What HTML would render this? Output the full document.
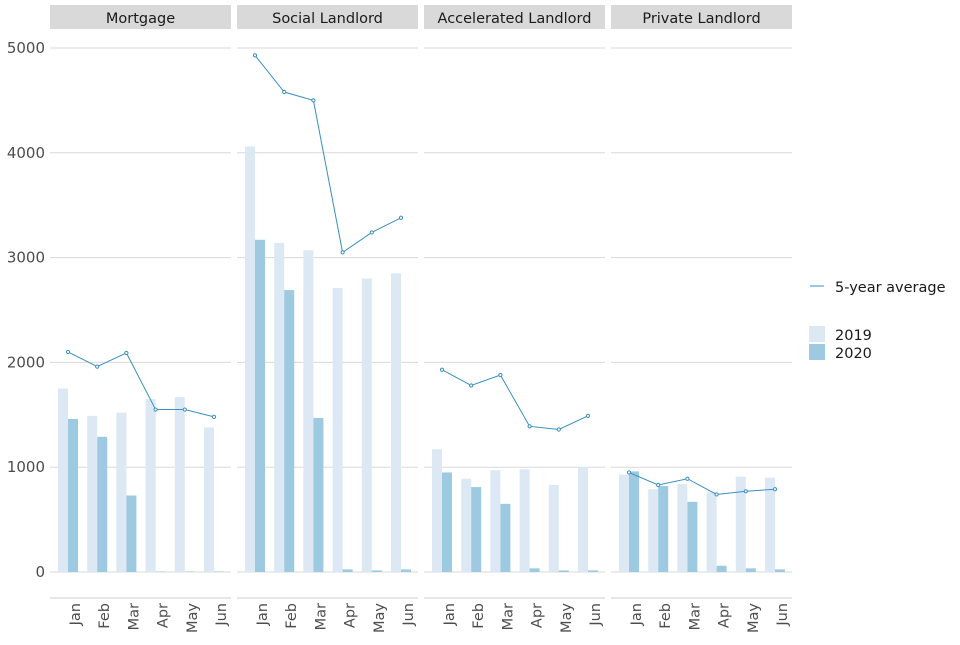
<!DOCTYPE html>
<html><head><meta charset="utf-8">
<style>
body{margin:0;background:#fff;font-family:"Liberation Sans","DejaVu Sans",sans-serif;}
svg text{font-family:"DejaVu Sans","Liberation Sans",sans-serif;}
</style></head>
<body>
<svg id="chart" width="960" height="640" xmlns="http://www.w3.org/2000/svg"></svg>
<script>
const panels = ["Mortgage","Social Landlord","Accelerated Landlord","Private Landlord"];
const months = ["Jan","Feb","Mar","Apr","May","Jun"];
const yTicks = [0,1000,2000,3000,4000,5000];
const vals2019 = [
  [1750,1490,1520,1650,1670,1380],
  [4060,3140,3070,2710,2800,2850],
  [1170,890,970,980,830,1000],
  [930,790,840,760,910,900]
];
const vals2020 = [
  [1460,1290,730,5,5,5],
  [3170,2690,1470,25,15,25],
  [950,810,650,35,15,15],
  [960,820,670,60,35,25]
];
const avg5 = [
  [2100,1960,2090,1550,1550,1480],
  [4930,4580,4500,3050,3240,3380],
  [1930,1780,1880,1390,1360,1490],
  [950,830,890,740,770,790]
];
const NS="http://www.w3.org/2000/svg";
const svg=document.getElementById('chart');
const panelLeft=[50,237,424,611], panelW=181;
function y(v){return 572 - v*0.1048;}
function x(p,i){return panelLeft[p]+18+i*29.2;}
function mk(tag,attrs,parent){const e=document.createElementNS(NS,tag);for(const k in attrs)e.setAttribute(k,attrs[k]);(parent||svg).appendChild(e);return e;}
yTicks.forEach(t=>{
  const tx=mk('text',{x:45,y:y(t)+5,'text-anchor':'end','font-size':15,fill:'#4d4d4d'});
  tx.textContent=t;
  
  
});
panels.forEach((name,p)=>{
  const g=mk('g',{});
  
  
  const strip=mk('rect',{x:panelLeft[p],y:5,width:panelW,height:24,fill:'#d9d9d9'},g);
  
  
  const st=mk('text',{x:panelLeft[p]+panelW/2,y:23,'text-anchor':'middle','font-size':14.5,fill:'#1a1a1a'},g);
  st.textContent=name;
  
  
  yTicks.forEach(t=>{
    const l=mk('line',{x1:panelLeft[p],x2:panelLeft[p]+panelW,y1:y(t),y2:y(t),stroke:'#d9d9d9','stroke-width':1},g);
    
    
  });
  const ax=mk('line',{x1:panelLeft[p],x2:panelLeft[p]+panelW,y1:598,y2:598,stroke:'#cccccc','stroke-width':1},g);
  
  
  months.forEach((m,i)=>{
    const cx=x(p,i);
    const b1=mk('rect',{x:cx-10,y:y(vals2019[p][i]),width:10,height:y(0)-y(vals2019[p][i]),fill:'#dce9f5'},g);
    
    
    const b2=mk('rect',{x:cx,y:y(vals2020[p][i]),width:10,height:y(0)-y(vals2020[p][i]),fill:'#9ecae1'},g);
    
    
    const tl=mk('text',{x:0,y:0,'text-anchor':'end','font-size':14.5,fill:'#4d4d4d',transform:`translate(${cx+12},603) rotate(-90)`},g);
    tl.textContent=m;
    
    
  });
  const pts=avg5[p].map((v,i)=>x(p,i)+','+y(v)).join(' ');
  const pl=mk('polyline',{points:pts,fill:'none',stroke:'#3a8fbf','stroke-width':1},g);
  
  
  avg5[p].forEach((v,i)=>{
    const c=mk('circle',{cx:x(p,i),cy:y(v),r:1.6,fill:'#fff',stroke:'#3a8fbf','stroke-width':1},g);
    
    
  });
});
const lg=mk('g',{});


const ll=mk('line',{x1:810,x2:824,y1:286,y2:286,stroke:'#3a8fbf','stroke-width':1},lg);


const lt=mk('text',{x:835,y:292,'font-size':14.5,fill:'#1a1a1a'},lg);
lt.textContent='5-year average';


[['2019','#dce9f5',326],['2020','#9ecae1',344]].forEach(([lab,col,yy])=>{
  const r=mk('rect',{x:809,y:yy,width:16,height:16,fill:col},lg);
  
  
  const t=mk('text',{x:835,y:yy+14,'font-size':14.5,fill:'#1a1a1a'},lg);
  t.textContent=lab;
  
  
});
</script>
</body></html>
